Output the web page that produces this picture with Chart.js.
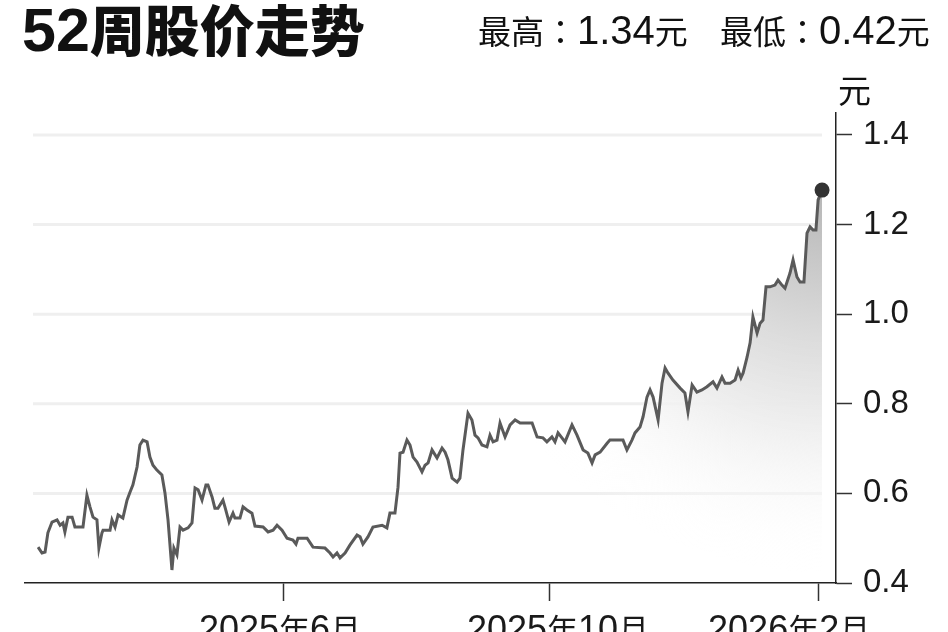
<!DOCTYPE html>
<html>
<head>
<meta charset="utf-8">
<script src="https://cdn.jsdelivr.net/npm/chart.js@4.4.1/dist/chart.umd.min.js"></script>
<style>
    html, body { margin: 0; padding: 0; background: #fff; }
    #wrap { position: relative; width: 948px; height: 632px; overflow: hidden; }
    #priceChart { position: absolute; left: 0; top: 0; }
    .txt { position: absolute; white-space: nowrap; line-height: 1; color: #111; }
    .txt span { line-height: 1; }
    .cjk { font-family: "Noto Sans CJK SC", sans-serif; }
    .colon { font-family: "Noto Sans CJK TC", sans-serif; }
    #title { left: 22px; top: -5px; font: bold 61px "Liberation Sans", sans-serif; }
    #title .cjk { font-size: 55px; font-weight: 900; }
    #hi, #lo { top: 8px; font: 40px "Liberation Sans", sans-serif; }
    #hi { left: 478px; }
    #lo { left: 720px; }
    #hi .cjk, #lo .cjk, #hi .colon, #lo .colon { font-size: 33px; }
    #unit { left: 838px; top: 65px; font: 33px "Noto Sans CJK SC", sans-serif; }
</style>
</head>
<body>
<div id="wrap">
    <canvas id="priceChart" width="948" height="632"></canvas>
    <div class="txt" id="title">52<span class="cjk">周股价走势</span></div>
    <div class="txt" id="hi"><span class="cjk">最高</span><span class="colon">：</span>1.34<span class="cjk">元</span></div>
    <div class="txt" id="lo"><span class="cjk">最低</span><span class="colon">：</span>0.42<span class="cjk">元</span></div>
    <div class="txt" id="unit">元</div>
</div>
<script>
// day number counted from 2025-01-01
const days = [38.2,40.0,41.4,42.7,44.6,46.9,48.3,49.6,50.5,51.9,53.8,55.1,58.8,60.6,62.0,63.4,65.2,66.1,67.5,68.0,
    71.2,72.1,73.5,74.9,77.1,79.0,80.4,81.7,83.6,84.9,86.3,88.2,89.5,90.9,92.7,95.0,96.4,97.8,99.6,100.5,
    101.9,103.3,104.7,107.0,108.8,110.2,111.6,113.4,115.2,116.1,118.0,119.3,120.7,123.0,123.9,125.8,127.6,128.5,130.8,132.2,
    134.0,136.3,137.7,141.4,143.7,146.0,147.8,150.1,152.4,155.1,156.5,157.4,161.6,164.3,169.8,172.1,173.5,175.3,176.7,179.0,
    181.3,184.5,185.9,187.2,189.5,191.8,196.0,198.2,199.6,201.9,203.3,204.2,205.6,207.4,208.8,210.2,212.0,214.3,215.7,217.1,
    218.9,221.2,223.5,224.9,226.2,228.1,230.4,231.7,233.1,235.4,237.2,238.6,240.0,241.8,244.1,245.5,246.9,248.7,250.1,252.4,
    254.7,257.0,259.3,264.8,267.1,269.8,271.6,273.9,275.3,276.7,278.5,279.9,283.1,285.4,288.2,290.4,292.3,293.7,296.0,299.2,
    300.5,306.5,308.3,310.6,312.0,314.3,315.7,317.5,318.9,320.3,322.6,324.4,325.8,327.1,329.4,332.7,334.9,336.3,338.2,340.4,
    342.7,345.0,347.8,349.6,351.9,353.3,355.6,357.9,359.3,360.6,361.6,363.4,364.8,366.1,368.0,369.4,370.7,372.1,373.9,376.2,
    377.6,379.4,380.8,383.1,384.5,386.3,387.7,389.5,390.9,392.3,393.7,395.0,396.0,397.8];

const prices = [0.480,0.467,0.469,0.512,0.536,0.541,0.529,0.534,0.514,0.547,0.547,0.525,0.525,0.596,0.570,0.547,0.541,0.478,0.512,0.518,
    0.518,0.541,0.525,0.552,0.545,0.585,0.603,0.619,0.659,0.708,0.719,0.715,0.681,0.663,0.652,0.641,0.601,0.541,0.429,0.478,
    0.463,0.525,0.518,0.523,0.534,0.612,0.608,0.585,0.619,0.619,0.592,0.567,0.567,0.585,0.570,0.536,0.556,0.545,0.545,0.570,
    0.563,0.556,0.527,0.525,0.514,0.518,0.529,0.518,0.500,0.496,0.487,0.500,0.500,0.480,0.478,0.467,0.458,0.467,0.456,0.467,
    0.485,0.507,0.503,0.487,0.503,0.525,0.529,0.523,0.556,0.556,0.614,0.690,0.692,0.719,0.708,0.681,0.670,0.648,0.663,0.668,
    0.697,0.679,0.701,0.692,0.675,0.634,0.625,0.634,0.697,0.779,0.764,0.730,0.724,0.708,0.704,0.730,0.715,0.719,0.757,0.726,
    0.753,0.764,0.757,0.757,0.726,0.724,0.715,0.726,0.715,0.735,0.724,0.715,0.753,0.730,0.697,0.690,0.668,0.686,0.692,0.712,
    0.719,0.719,0.697,0.719,0.735,0.748,0.771,0.815,0.831,0.815,0.764,0.846,0.880,0.869,0.853,0.835,0.824,0.782,0.842,0.826,
    0.831,0.838,0.849,0.835,0.860,0.846,0.846,0.853,0.875,0.858,0.869,0.904,0.936,0.994,0.958,0.980,0.987,1.061,1.061,1.065,
    1.076,1.065,1.058,1.092,1.121,1.083,1.072,1.072,1.181,1.195,1.188,1.188,1.255,1.277];

const xTickDays = [151, 273, 396];
const xTickLabels = ['2025年6月', '2025年10月', '2026年2月'];
const yTicks = [0.4, 0.6, 0.8, 1.0, 1.2, 1.4];

const points = days.map(function (d, i) { return { x: d, y: prices[i] }; });
const lastIndex = points.length - 1;

// draws digits in a latin face and the rest in the CJK face
function drawMixed(ctx, text, cx, y) {
    const parts = text.match(/[0-9.]+|[^0-9.]+/g);
    const fonts = parts.map(function (p) {
        return /[0-9.]/.test(p[0]) ? '36px "Liberation Sans"' : '31px "Noto Sans CJK SC"';
    });
    let total = 0;
    parts.forEach(function (p, i) { ctx.font = fonts[i]; total += ctx.measureText(p).width; });
    let x = cx - total / 2;
    parts.forEach(function (p, i) {
        ctx.font = fonts[i];
        ctx.fillText(p, x, y);
        x += ctx.measureText(p).width;
    });
}

const xLabels = {
    id: 'xLabels',
    afterDraw: function (chart) {
        const scale = chart.scales.x;
        const ctx = chart.ctx;
        const shift = [-4, 8, -29];
        ctx.save();
        ctx.fillStyle = '#1a1a1a';
        ctx.textAlign = 'left';
        ctx.textBaseline = 'alphabetic';
        xTickDays.forEach(function (d, i) {
            drawMixed(ctx, xTickLabels[i], scale.getPixelForValue(d) + shift[i], 641);
        });
        ctx.restore();
    }
};

// horizontal guides that stop short of both ends of the plot
const shortGrid = {
    id: 'shortGrid',
    beforeDatasetsDraw: function (chart) {
        const a = chart.chartArea;
        const y = chart.scales.y;
        const ctx = chart.ctx;
        ctx.save();
        ctx.strokeStyle = '#efefef';
        ctx.lineWidth = 3;
        yTicks.slice(1).forEach(function (v) {
            const py = y.getPixelForValue(v);
            ctx.beginPath();
            ctx.moveTo(a.left + 8, py);
            ctx.lineTo(a.right - 14, py);
            ctx.stroke();
        });
        ctx.restore();
    }
};

// grey glow that fades from the latest point toward left and bottom
function areaFill(context) {
    const chart = context.chart;
    const a = chart.chartArea;
    if (!a) return 'rgba(0,0,0,0)';
    const cx = a.right - 10, cy = a.top + 70;
    const g = chart.ctx.createRadialGradient(cx, cy, 0, cx, cy, 390);
    g.addColorStop(0, 'rgba(180,180,180,1)');
    g.addColorStop(0.4, 'rgba(220,220,220,1)');
    g.addColorStop(0.65, 'rgba(240,240,240,0.95)');
    g.addColorStop(1, 'rgba(255,255,255,0)');
    return g;
}

new Chart(document.getElementById('priceChart').getContext('2d'), {
    type: 'line',
    data: {
        datasets: [{
            data: points,
            borderColor: '#5a5a5a',
            borderWidth: 3,
            tension: 0,
            fill: 'start',
            backgroundColor: areaFill,
            pointRadius: function (c) { return c.dataIndex === lastIndex ? 7.5 : 0; },
            pointBackgroundColor: '#333',
            pointBorderWidth: 0
        }]
    },
    options: {
        responsive: false,
        animation: false,
        events: [],
        layout: { padding: { left: 25, top: 112.6, right: 0, bottom: 0 } },
        plugins: {
            legend: { display: false },
            tooltip: { enabled: false }
        },
        scales: {
            x: {
                type: 'linear',
                min: 32.2,
                max: 404.2,
                afterBuildTicks: function (s) { s.ticks = xTickDays.map(function (v) { return { value: v }; }); },
                afterFit: function (s) { s.height = 49; },
                grid: { drawOnChartArea: false, tickLength: 18, tickColor: '#333', tickWidth: 1.5 },
                border: { color: '#222', width: 1.5 },
                ticks: { display: false }
            },
            y: {
                position: 'right',
                min: 0.4,
                max: 1.45,
                afterBuildTicks: function (s) { s.ticks = yTicks.map(function (v) { return { value: v }; }); },
                afterFit: function (s) { s.width = 112; },
                grid: { drawOnChartArea: false, tickLength: 16, tickColor: '#333', tickWidth: 1.5 },
                border: { color: '#222', width: 1.5 },
                ticks: {
                    padding: 11,
                    color: '#1a1a1a',
                    font: { size: 33, family: '"Liberation Sans"' },
                    callback: function (v) { return v.toFixed(1); }
                }
            }
        }
    },
    plugins: [shortGrid, xLabels]
});
</script>
</body>
</html>
